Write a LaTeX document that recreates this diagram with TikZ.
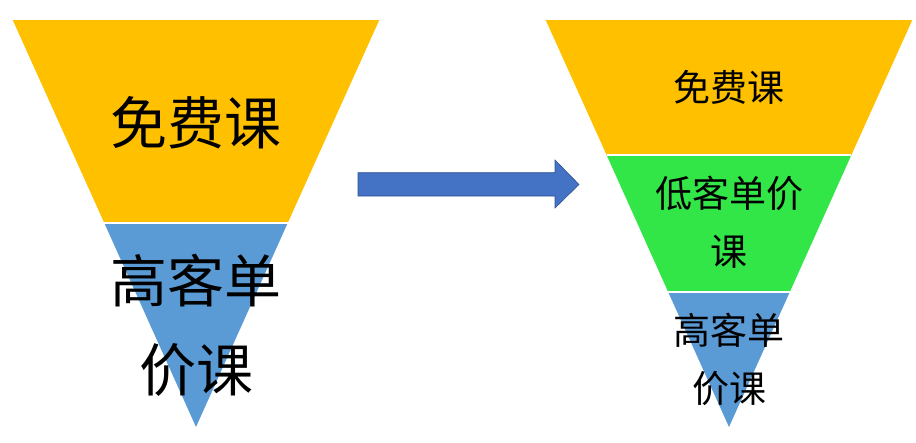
\documentclass[tikz,border=0pt]{standalone}
\usepackage[RGB]{xcolor}
\usepackage{fontspec}
\setmainfont{Noto Sans CJK SC}
\usepackage{tikz}
\newcommand{\drawsplit}{\draw[white,line width=1.2pt]}
\newcommand{\bigfont}{\fontsize{57}{89}\selectfont}
\newcommand{\smallfont}{\fontsize{37}{58}\selectfont}
\definecolor{Free}{RGB}{255,192,0}
\definecolor{High}{RGB}{91,155,213}
\definecolor{Low}{RGB}{51,230,72}
\definecolor{Arrow}{RGB}{68,114,196}
\definecolor{ArrowEdge}{RGB}{47,82,143}
\tikzset{label/.style={anchor=base,align=center,inner sep=0pt}}

\begin{document}
\begin{tikzpicture}[x=1pt,y=-1pt]
\useasboundingbox (0,0) rectangle (916,442);
% left funnel
\fill[Free] (12.7,20)--(379.3,20)--(287.7,223)--(104.3,223)--cycle;
\fill[High] (104.3,223)--(287.7,223)--(196,427)--cycle;
\drawsplit (104.3,223)--(287.7,223);
% right funnel
\fill[Free] (545.7,20)--(912.3,20)--(851.4,155)--(606.6,155)--cycle;
\fill[Low] (606.6,155)--(851.4,155)--(789.8,292)--(668.2,292)--cycle;
\fill[High] (668.2,292)--(789.8,292)--(729,427)--cycle;
\drawsplit (606.6,155)--(851.4,155);
\drawsplit (668.2,292)--(789.8,292);
% arrow
\filldraw[fill=Arrow,draw=ArrowEdge,line width=0.6pt] (358,172.7)--++(197,0)--++(0,-12.7)--(579,184.5)--(555,208)--++(0,-12)--(358,196)--cycle;
% texts (base = last line)
\node[label,font=\bigfont] (free1) at (196,144) {免费课};
\node[label,font=\bigfont] (high1) at (196,391.7) {高客单\\价课};
\node[label,font=\smallfont] (free2) at (729,101) {免费课};
\node[label,font=\smallfont] (low2) at (729,265) {低客单价\\课};
\node[label,font=\smallfont] (high2) at (729,402) {高客单\\价课};
\end{tikzpicture}
\end{document}
